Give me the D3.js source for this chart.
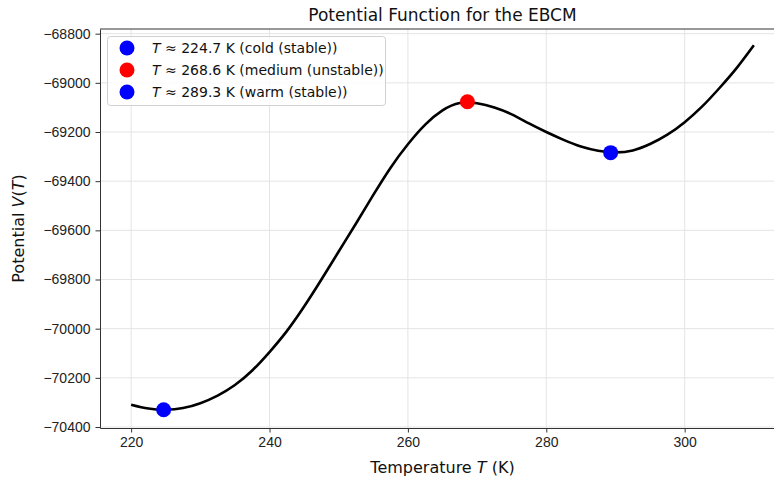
<!DOCTYPE html>
<html>
<head>
<meta charset="utf-8">
<script src="https://cdn.jsdelivr.net/npm/d3@7"></script>
<style>
  body { margin: 0; background: #fff; }
  svg { display: block; font-family: "DejaVu Sans", sans-serif; }
  .grid line { stroke: #e4e4e4; stroke-width: 1; }
  .axis path, .axis line { stroke: #333; }
  .axis text { fill: #222; font-size: 14px; }
</style>
</head>
<body>
<div id="chart"></div>
<script>
// Values

// Temperature samples (K), every 2.5 K
var temps = [220, 222.5, 225, 227.5, 230, 232.5, 235, 237.5, 240, 242.5,
  245, 247.5, 250, 252.5, 255, 257.5, 260, 262.5, 265, 267.5, 270, 272.5,
  275, 277.5, 280, 282.5, 285, 287.5, 290, 292.5, 295, 297.5, 300, 302.5,
  305, 307.5, 310];

// Potential V(T) at those temperatures
var potential = [-70309, -70325, -70330, -70323, -70303, -70272, -70229,
  -70170, -70095, -70010, -69910, -69800, -69686, -69572, -69456, -69345,
  -69250, -69170, -69112, -69082, -69083, -69100, -69128, -69165, -69200,
  -69232, -69259, -69276, -69283, -69275, -69249, -69211, -69160, -69097,
  -69022, -68940, -68847];

// Equilibrium points
var eqTemps = [224.7, 268.6, 289.3];
var eqValues = [-70330, -69077, -69284];
var eqLabels = ["cold (stable)", "medium (unstable)", "warm (stable)"];
var eqColors = ["#0000ff", "#ff0000", "#0000ff"];

// Tick labels
var xTicks = [220, 240, 260, 280, 300];
var yTicks = [-68800, -69000, -69200, -69400, -69600, -69800, -70000, -70200, -70400];

// Canvas
var width = 774;
var height = 479;
var plotLeft = 100, plotRight = 785, plotTop = 29, plotBottom = 428;

var svg = d3.select("#chart")
  .append("svg")
  .attr("width", width)
  .attr("height", height);

var xScale = d3.scaleLinear().domain([215.5, 314.5]).range([plotLeft, plotRight]);
var yScale = d3.scaleLinear().domain([-70404, -68781]).range([plotBottom, plotTop]);

// Grid
var grid = svg.append("g").attr("class", "grid");
grid.selectAll("line.gx").data(xTicks).enter().append("line")
  .attr("x1", function(d) { return xScale(d); })
  .attr("x2", function(d) { return xScale(d); })
  .attr("y1", plotTop).attr("y2", plotBottom);
grid.selectAll("line.gy").data(yTicks).enter().append("line")
  .attr("y1", function(d) { return yScale(d); })
  .attr("y2", function(d) { return yScale(d); })
  .attr("x1", plotLeft).attr("x2", plotRight);

// Axes
var fmt = function(d) { return d < 0 ? "\u2212" + Math.abs(d) : String(d); };

svg.append("g")
  .attr("class", "axis")
  .attr("transform", "translate(0," + plotBottom + ")")
  .call(d3.axisBottom(xScale).tickValues(xTicks).tickSize(4.5).tickPadding(5).tickSizeOuter(0));

svg.append("g")
  .attr("class", "axis")
  .attr("transform", "translate(" + plotLeft + ",0)")
  .call(d3.axisLeft(yScale).tickValues(yTicks).tickFormat(fmt).tickSize(4.5).tickPadding(5).tickSizeOuter(0));

// top spine
svg.append("line")
  .attr("x1", plotLeft).attr("x2", plotRight)
  .attr("y1", plotTop).attr("y2", plotTop)
  .attr("stroke", "#333");

// Curve
var pts = temps.map(function(t, i) { return [t, potential[i]]; });
var line = d3.line()
  .x(function(d) { return xScale(d[0]); })
  .y(function(d) { return yScale(d[1]); })
  .curve(d3.curveNatural);

svg.append("path")
  .datum(pts)
  .attr("d", line)
  .attr("fill", "none")
  .attr("stroke", "#000")
  .attr("stroke-width", 2.6);

// Equilibrium markers
svg.selectAll("circle.eq")
  .data(eqTemps)
  .enter()
  .append("circle")
  .attr("class", "eq")
  .attr("cx", function(d) { return xScale(d); })
  .attr("cy", function(d, i) { return yScale(eqValues[i]); })
  .attr("r", 7.5)
  .attr("fill", function(d, i) { return eqColors[i]; });

// Title and axis labels
svg.append("text")
  .attr("x", (plotLeft + plotRight) / 2)
  .attr("y", 21)
  .attr("text-anchor", "middle")
  .attr("font-size", 17)
  .attr("fill", "#111")
  .text("Potential Function for the EBCM");

var xl = svg.append("text")
  .attr("x", (plotLeft + plotRight) / 2)
  .attr("y", 473)
  .attr("text-anchor", "middle")
  .attr("font-size", 16)
  .attr("fill", "#111");
xl.append("tspan").text("Temperature ");
xl.append("tspan").attr("font-style", "italic").text("T");
xl.append("tspan").text(" (K)");

var yl = svg.append("text")
  .attr("transform", "translate(24," + ((plotTop + plotBottom) / 2) + ")rotate(-90)")
  .attr("text-anchor", "middle")
  .attr("font-size", 16)
  .attr("fill", "#111");
yl.append("tspan").text("Potential ");
yl.append("tspan").attr("font-style", "italic").text("V");
yl.append("tspan").text("(");
yl.append("tspan").attr("font-style", "italic").text("T");
yl.append("tspan").text(")");

// Legend
var legend = svg.append("g");
legend.append("rect")
  .attr("x", 107.5).attr("y", 36.5)
  .attr("width", 278).attr("height", 69)
  .attr("rx", 3)
  .attr("fill", "#fff")
  .attr("fill-opacity", 0.8)
  .attr("stroke", "#d0d0d0");

var items = legend.selectAll("g.item")
  .data(eqTemps)
  .enter()
  .append("g")
  .attr("transform", function(d, i) { return "translate(0," + (48 + i * 22) + ")"; });

items.append("circle")
  .attr("cx", 127)
  .attr("cy", 0)
  .attr("r", 7.5)
  .attr("fill", function(d, i) { return eqColors[i]; });

var lt = items.append("text")
  .attr("x", 152)
  .attr("y", 5)
  .attr("font-size", 14)
  .attr("fill", "#111");
lt.append("tspan").attr("font-style", "italic").text("T");
lt.append("tspan").text(function(d, i) { return " \u2248 " + d.toFixed(1) + " K (" + eqLabels[i] + ")"; });
</script>
</body>
</html>
